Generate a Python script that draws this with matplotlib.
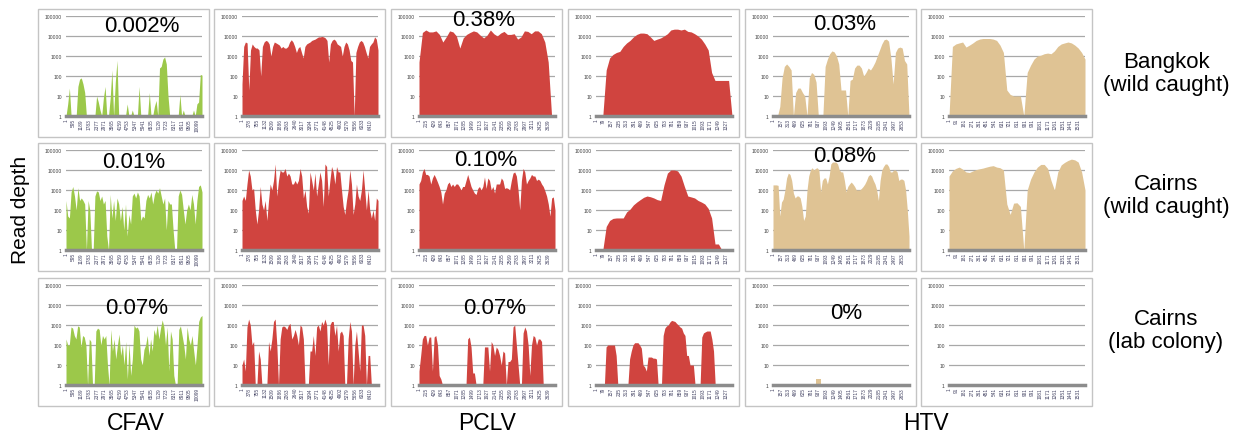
import numpy as np
import matplotlib.pyplot as plt
from matplotlib.patches import Rectangle

plt.rcParams['font.family'] = ['Liberation Sans', 'DejaVu Sans']

W, H = 1246, 435

# genome length shown on each column and its category tick labels
col_len = [10450, 6800, 3840, 1390, 2800, 1615]
ticks_c1 = [1, 595, 1189, 1783, 2377, 2971, 3565, 4159, 4753, 5347, 5941, 6535, 7129, 7723, 8317, 8911, 9505, 10099]
ticks_c2 = [1, 378, 755, 1132, 1509, 1886, 2263, 2640, 3017, 3394, 3771, 4148, 4525, 4902, 5279, 5656, 6033, 6410]
ticks_c3 = [1, 215, 429, 643, 857, 1071, 1285, 1499, 1713, 1927, 2141, 2355, 2569, 2783, 2997, 3211, 3425, 3639]
ticks_c4 = [1, 79, 157, 235, 313, 391, 469, 547, 625, 703, 781, 859, 937, 1015, 1093, 1171, 1249, 1327]
ticks_c5 = [1, 157, 313, 469, 625, 781, 937, 1093, 1249, 1405, 1561, 1717, 1873, 2029, 2185, 2341, 2497, 2653]
ticks_c6 = [1, 91, 181, 271, 361, 451, 541, 631, 721, 811, 901, 991, 1081, 1171, 1261, 1351, 1441, 1531]
col_ticks = [ticks_c1, ticks_c2, ticks_c3, ticks_c4, ticks_c5, ticks_c6]

# read depth profiles, sampled evenly along each genome (0 = no reads)
bkk_cfav1 = [0, 4, 25, 0, 0, 0, 0, 30, 70, 80, 40, 15, 0, 0, 0, 0, 0, 0, 10, 5,
             2, 0, 8, 30, 0, 0, 8, 200, 0, 50, 600, 0, 0, 0, 0, 0, 4, 0, 0, 2,
             0, 0, 0, 30, 0, 0, 0, 0, 0, 15, 0, 0, 3, 6, 0, 250, 300, 700, 900, 400,
             10, 0, 0, 0, 0, 0, 0, 12, 0, 2, 0, 0, 0, 0, 0, 2, 0, 4, 5, 120, 110]
bkk_cfav2 = [40, 3000, 5000, 4500, 20, 2000, 4000, 3000, 2500, 2500,
             2000, 100, 3000, 5000, 6000, 5500, 4000, 1000, 3000, 5000,
             4500, 4000, 3500, 2500, 3000, 2500, 2500, 3000, 5000, 6500,
             5000, 3000, 1500, 2500, 3000, 1500, 800, 3000, 4000, 4500,
             5000, 6000, 6500, 7000, 8000, 9000, 9000, 9500, 9000, 8000,
             6000, 500, 4000, 6000, 7000, 6000, 4000, 3500, 3000, 1000,
             3000, 5000, 4000, 2000, 600, 500, 1, 1500, 3000, 5000,
             6000, 5000, 3000, 1500, 800, 3000, 4000, 5000, 9000, 7000, 2000]
bkk_pclv1 = [500, 15000, 20000, 16000, 16000, 18000, 12000, 5000, 9000, 18000,
             16000, 10000, 2500, 8000, 12000, 15000, 18000, 16000, 11000, 8000,
             11000, 20000, 13000, 10000, 14000, 17000, 12000, 12000, 13000, 7000,
             9000, 18000, 17000, 13000, 18000, 18000, 13000, 5000, 500, 0, 0]
bkk_pclv2 = [0, 0, 0, 200, 800, 1200, 1500, 1700, 3000, 4500,
             6000, 9000, 12000, 14000, 14000, 13000, 9000, 6000, 7000, 8000,
             10000, 13000, 20000, 22000, 22000, 20000, 22000, 17000, 16000, 13000,
             10000, 7000, 4000, 2000, 150, 60, 60, 60, 60, 60, 0]
bkk_htv1 = [0, 0, 0, 3, 80, 300, 400, 300, 200, 0, 15, 25, 25, 15, 10, 0, 80, 150, 120, 50,
            0, 0, 0, 300, 700, 1300, 1800, 1600, 1000, 400, 20, 20, 20, 0, 60, 70, 250, 350, 350, 250,
            100, 150, 250, 200, 300, 500, 1000, 2000, 4000, 6500, 7000, 5500, 800, 40, 1500, 2500,
            2800, 2500, 600, 400, 0]
bkk_htv2 = [0, 3000, 4000, 4500, 5000, 2800, 3500, 4500, 6000, 7000,
            7500, 7500, 7500, 7000, 6000, 3500, 1500, 20, 12, 10,
            10, 10, 0, 150, 350, 700, 1000, 1100, 1300, 1400,
            1300, 1800, 3000, 4000, 4500, 5000, 4500, 3500, 2500, 1500, 700]

crn_cfav1 = [300, 50, 40, 800, 1500, 500, 100, 1300, 300, 400, 300, 200, 0, 300, 100, 0, 0, 500, 900, 800,
             300, 500, 200, 300, 5, 0, 600, 40, 300, 30, 400, 200, 30, 150, 10, 200, 5, 60, 20, 500,
             700, 400, 800, 500, 30, 50, 40, 300, 600, 400, 800, 200, 600, 1000, 700, 1300, 500, 200, 400, 10,
             300, 200, 200, 10, 0, 0, 500, 1000, 600, 100, 20, 100, 200, 100, 600, 200, 20, 300, 1500, 1800, 800]
crn_cfav2 = [300, 500, 300, 2000, 10000, 5000, 1000, 1200, 100, 20, 100, 1500, 200, 100, 300, 30, 300,
             2000, 1000, 3000, 20000, 500, 3000, 10000, 8000, 8000, 12000, 5000, 7000, 5000, 2000, 2000,
             3000, 2000, 3000, 12000, 5000, 400, 1000, 150, 70, 8000, 3000, 1000, 7000, 500, 2000, 8000,
             3000, 150, 20000, 15000, 500, 3000, 15000, 8000, 2000, 15000, 8000, 8000, 1000, 150, 60, 300,
             1000, 10000, 2000, 60, 200, 2000, 500, 300, 1000, 10000, 1000, 100, 1000, 100, 40, 100, 30, 400, 300]
crn_pclv1 = [2000, 3000, 8000, 12000, 6000, 6000, 5000, 2000, 4000, 6000,
             4000, 2500, 1500, 800, 200, 700, 1000, 2000, 2500, 1500,
             2000, 1500, 2000, 2000, 1500, 1000, 1500, 1500, 3000, 6000,
             3000, 1500, 1000, 700, 600, 1200, 1500, 1000, 1500, 4500,
             1200, 4000, 3000, 1000, 1500, 700, 2000, 2000, 2000, 4000,
             3000, 1200, 1300, 1200, 1000, 3000, 7000, 8000, 5000, 1000,
             100, 3000, 12000, 8000, 2000, 3000, 4000, 6000, 5000, 5000,
             3000, 3500, 3000, 2000, 1500, 900, 500, 200, 50, 400, 450, 100]
crn_pclv2 = [0, 0, 0, 15, 30, 38, 40, 40, 40, 80,
             110, 180, 250, 330, 430, 500, 460, 400, 330, 300,
             1800, 7000, 10000, 10000, 9000, 5000, 1500, 500, 450, 400,
             300, 250, 200, 120, 40, 2, 2, 0, 0, 0, 0]
crn_htv1 = [1800, 1800, 1800, 1700, 50, 250, 350, 1000, 4000, 7000,
            6000, 3000, 700, 400, 500, 500, 400, 150, 30, 50,
            1000, 5000, 10000, 13000, 10000, 12000, 13000, 10000, 800, 3000,
            4000, 4000, 2000, 5000, 20000, 25000, 25000, 25000, 20000, 10000,
            8000, 8000, 3000, 800, 1500, 2000, 2500, 2000, 1500, 1000,
            1000, 1000, 1200, 1500, 2000, 3000, 5000, 6000, 5000, 3000,
            2000, 1000, 300, 3000, 10000, 15000, 20000, 20000, 15000, 8000,
            8000, 10000, 10000, 8000, 3000, 3500, 3500, 3000, 1000, 100, 5]
crn_htv2 = [5000, 9000, 12000, 14000, 11000, 8000, 7500, 9000, 10500, 11500,
            12500, 14000, 15500, 16500, 14000, 13000, 10000, 200, 60, 220,
            230, 150, 0, 1000, 3500, 8000, 14000, 19000, 19000, 12000,
            3000, 1000, 8000, 18000, 24000, 30000, 35000, 32000, 25000, 8000, 1000]

lab_cfav1 = [200, 100, 100, 800, 700, 300, 200, 900, 800, 80,
             300, 250, 100, 0, 200, 150, 0, 0, 500, 700,
             600, 100, 300, 200, 300, 10, 0, 600, 50, 200,
             20, 100, 350, 30, 100, 10, 150, 2, 120, 3,
             20, 1000, 700, 800, 500, 20, 10, 60, 100, 300,
             30, 200, 50, 600, 300, 1000, 200, 700, 1800, 800,
             100, 800, 5, 500, 200, 3, 0, 0, 600, 900,
             300, 100, 20, 800, 200, 100, 300, 50, 10, 100, 1500, 2500, 3000]
lab_cfav2 = [10, 20, 5, 800, 2000, 1000, 100, 150, 0, 0, 50, 20, 0, 0, 0, 0, 150, 50, 200, 1500,
             2000, 100, 1, 200, 800, 900, 800, 600, 1000, 1200, 200, 300, 600, 300, 100, 1000, 800, 200,
             0, 0, 0, 50, 50, 300, 30, 800, 1000, 500, 1500, 1000, 2000, 1000, 10, 1000, 1500, 1500,
             300, 1000, 50, 400, 500, 300, 0, 0, 200, 1500, 500, 0, 100, 500, 50, 5, 1000, 1000, 300,
             0, 30, 30, 0, 0, 0, 0, 0]
lab_pclv1 = [5, 30, 200, 300, 300, 100, 250, 250, 5, 250, 300, 100, 3, 2, 0, 0, 0, 0, 0, 0,
             0, 0, 0, 0, 0, 0, 0, 0, 0, 200, 250, 80, 4, 4, 0, 0, 0, 0, 0, 80,
             80, 80, 5, 150, 100, 30, 80, 60, 30, 10, 50, 40, 0, 15, 15, 20, 800, 1000, 100, 10,
             0, 0, 400, 800, 500, 100, 3, 100, 300, 250, 100, 200, 200, 150, 0, 0, 0, 0, 0, 0, 0, 0]
lab_pclv2 = [0, 0, 0, 0, 0, 0, 80, 100, 100, 100, 100, 100, 30, 0, 0, 0, 0, 0, 0, 0,
             20, 50, 100, 130, 130, 130, 100, 70, 10, 8, 5, 25, 25, 25, 22, 22, 20, 0, 0, 0,
             300, 700, 900, 1000, 1400, 1700, 1600, 1500, 1200, 1000, 800, 700, 400, 300, 30, 30,
             10, 10, 10, 0, 0, 0, 0, 250, 400, 450, 500, 500, 500, 200, 50, 0,
             0, 0, 0, 0, 0, 0, 0, 0, 0, 0]
lab_htv1_pos = [880, 985]
lab_htv1 = [2, 2]

green, red, tan = '#9cc84a', '#d0443f', '#dfc394'
col_color = [green, red, red, red, tan, tan]

rows = [
    [bkk_cfav1, bkk_cfav2, bkk_pclv1, bkk_pclv2, bkk_htv1, bkk_htv2],
    [crn_cfav1, crn_cfav2, crn_pclv1, crn_pclv2, crn_htv1, crn_htv2],
    [lab_cfav1, lab_cfav2, lab_pclv1, lab_pclv2, lab_htv1, None],
]

pct_labels = [
    [(142, 26, '0.002%'), (484, 21, '0.38%'), (845, 24, '0.03%')],
    [(134, 163, '0.01%'), (486, 161, '0.10%'), (845, 157, '0.08%')],
    [(137, 308, '0.07%'), (495, 308, '0.07%'), (846, 314, '0%')],
]
row_labels = ['Bangkok\n(wild caught)', 'Cairns\n(wild caught)', 'Cairns\n(lab colony)']
row_label_y = [74, 196, 331]
virus_names = ['CFAV', 'PCLV', 'HTV']
virus_x = [136, 487, 926]

col_left = [38, 214, 391, 568, 745, 921]
row_top = [10, 144, 279]
box_w, box_h = 171, 128

fig = plt.figure(figsize=(W / 100, H / 100), dpi=100)


def fx(x):
    return x / W


def fy(y):
    return 1 - y / H


for r in range(3):
    for c in range(6):
        bl, bt = col_left[c], row_top[r]
        fig.add_artist(Rectangle((fx(bl), fy(bt + box_h)), box_w / W, box_h / H,
                                 transform=fig.transFigure, fill=False,
                                 ec='#c4c4c4', lw=1, zorder=0.5))
        ax = fig.add_axes([fx(bl + 28), fy(bt + 107), 136 / W, 100 / H])
        ax.set_yscale('log')
        ax.set_ylim(1, 100000)
        ax.set_xlim(1, col_len[c])
        depth = rows[r][c]
        if depth is not None:
            if r == 2 and c == 4:
                x = lab_htv1_pos
            else:
                x = np.linspace(1, col_len[c], len(depth))
            ax.fill_between(x, 1, np.maximum(depth, 1), color=col_color[c], lw=0, zorder=2)
        ax.set_yticks([1, 10, 100, 1000, 10000, 100000])
        ax.set_yticklabels(['1', '10', '100', '1000', '10000', '100000'])
        ax.minorticks_off()
        ax.set_xticks(col_ticks[c])
        ax.set_xticklabels([str(t) for t in col_ticks[c]], rotation=90)
        ax.tick_params(axis='y', length=0, pad=3, labelsize=3.6, labelcolor='#404040')
        ax.tick_params(axis='x', length=0, pad=1.5, labelsize=3.4, labelcolor='#404060')
        ax.grid(axis='y', color='#a8a8a8', lw=0.9, zorder=1)
        ax.set_axisbelow(True)
        for s in ['top', 'right', 'left']:
            ax.spines[s].set_visible(False)
        ax.spines['bottom'].set_color('#8c8c8c')
        ax.spines['bottom'].set_linewidth(2.5)
        ax.spines['bottom'].set_zorder(3)

for r in range(3):
    for (x, y, t) in pct_labels[r]:
        fig.text(fx(x), fy(y), t, fontsize=16, ha='center', va='center', zorder=5)
    fig.text(fx(1166), fy(row_label_y[r]), row_labels[r], fontsize=16,
             ha='center', va='center', linespacing=1.15)

for name, x in zip(virus_names, virus_x):
    fig.text(fx(x), fy(424), name, fontsize=16.5, ha='center', va='center')

fig.text(fx(21), fy(210), 'Read depth', fontsize=15, rotation=90, ha='center', va='center')

fig.savefig('out.png', dpi=100)
